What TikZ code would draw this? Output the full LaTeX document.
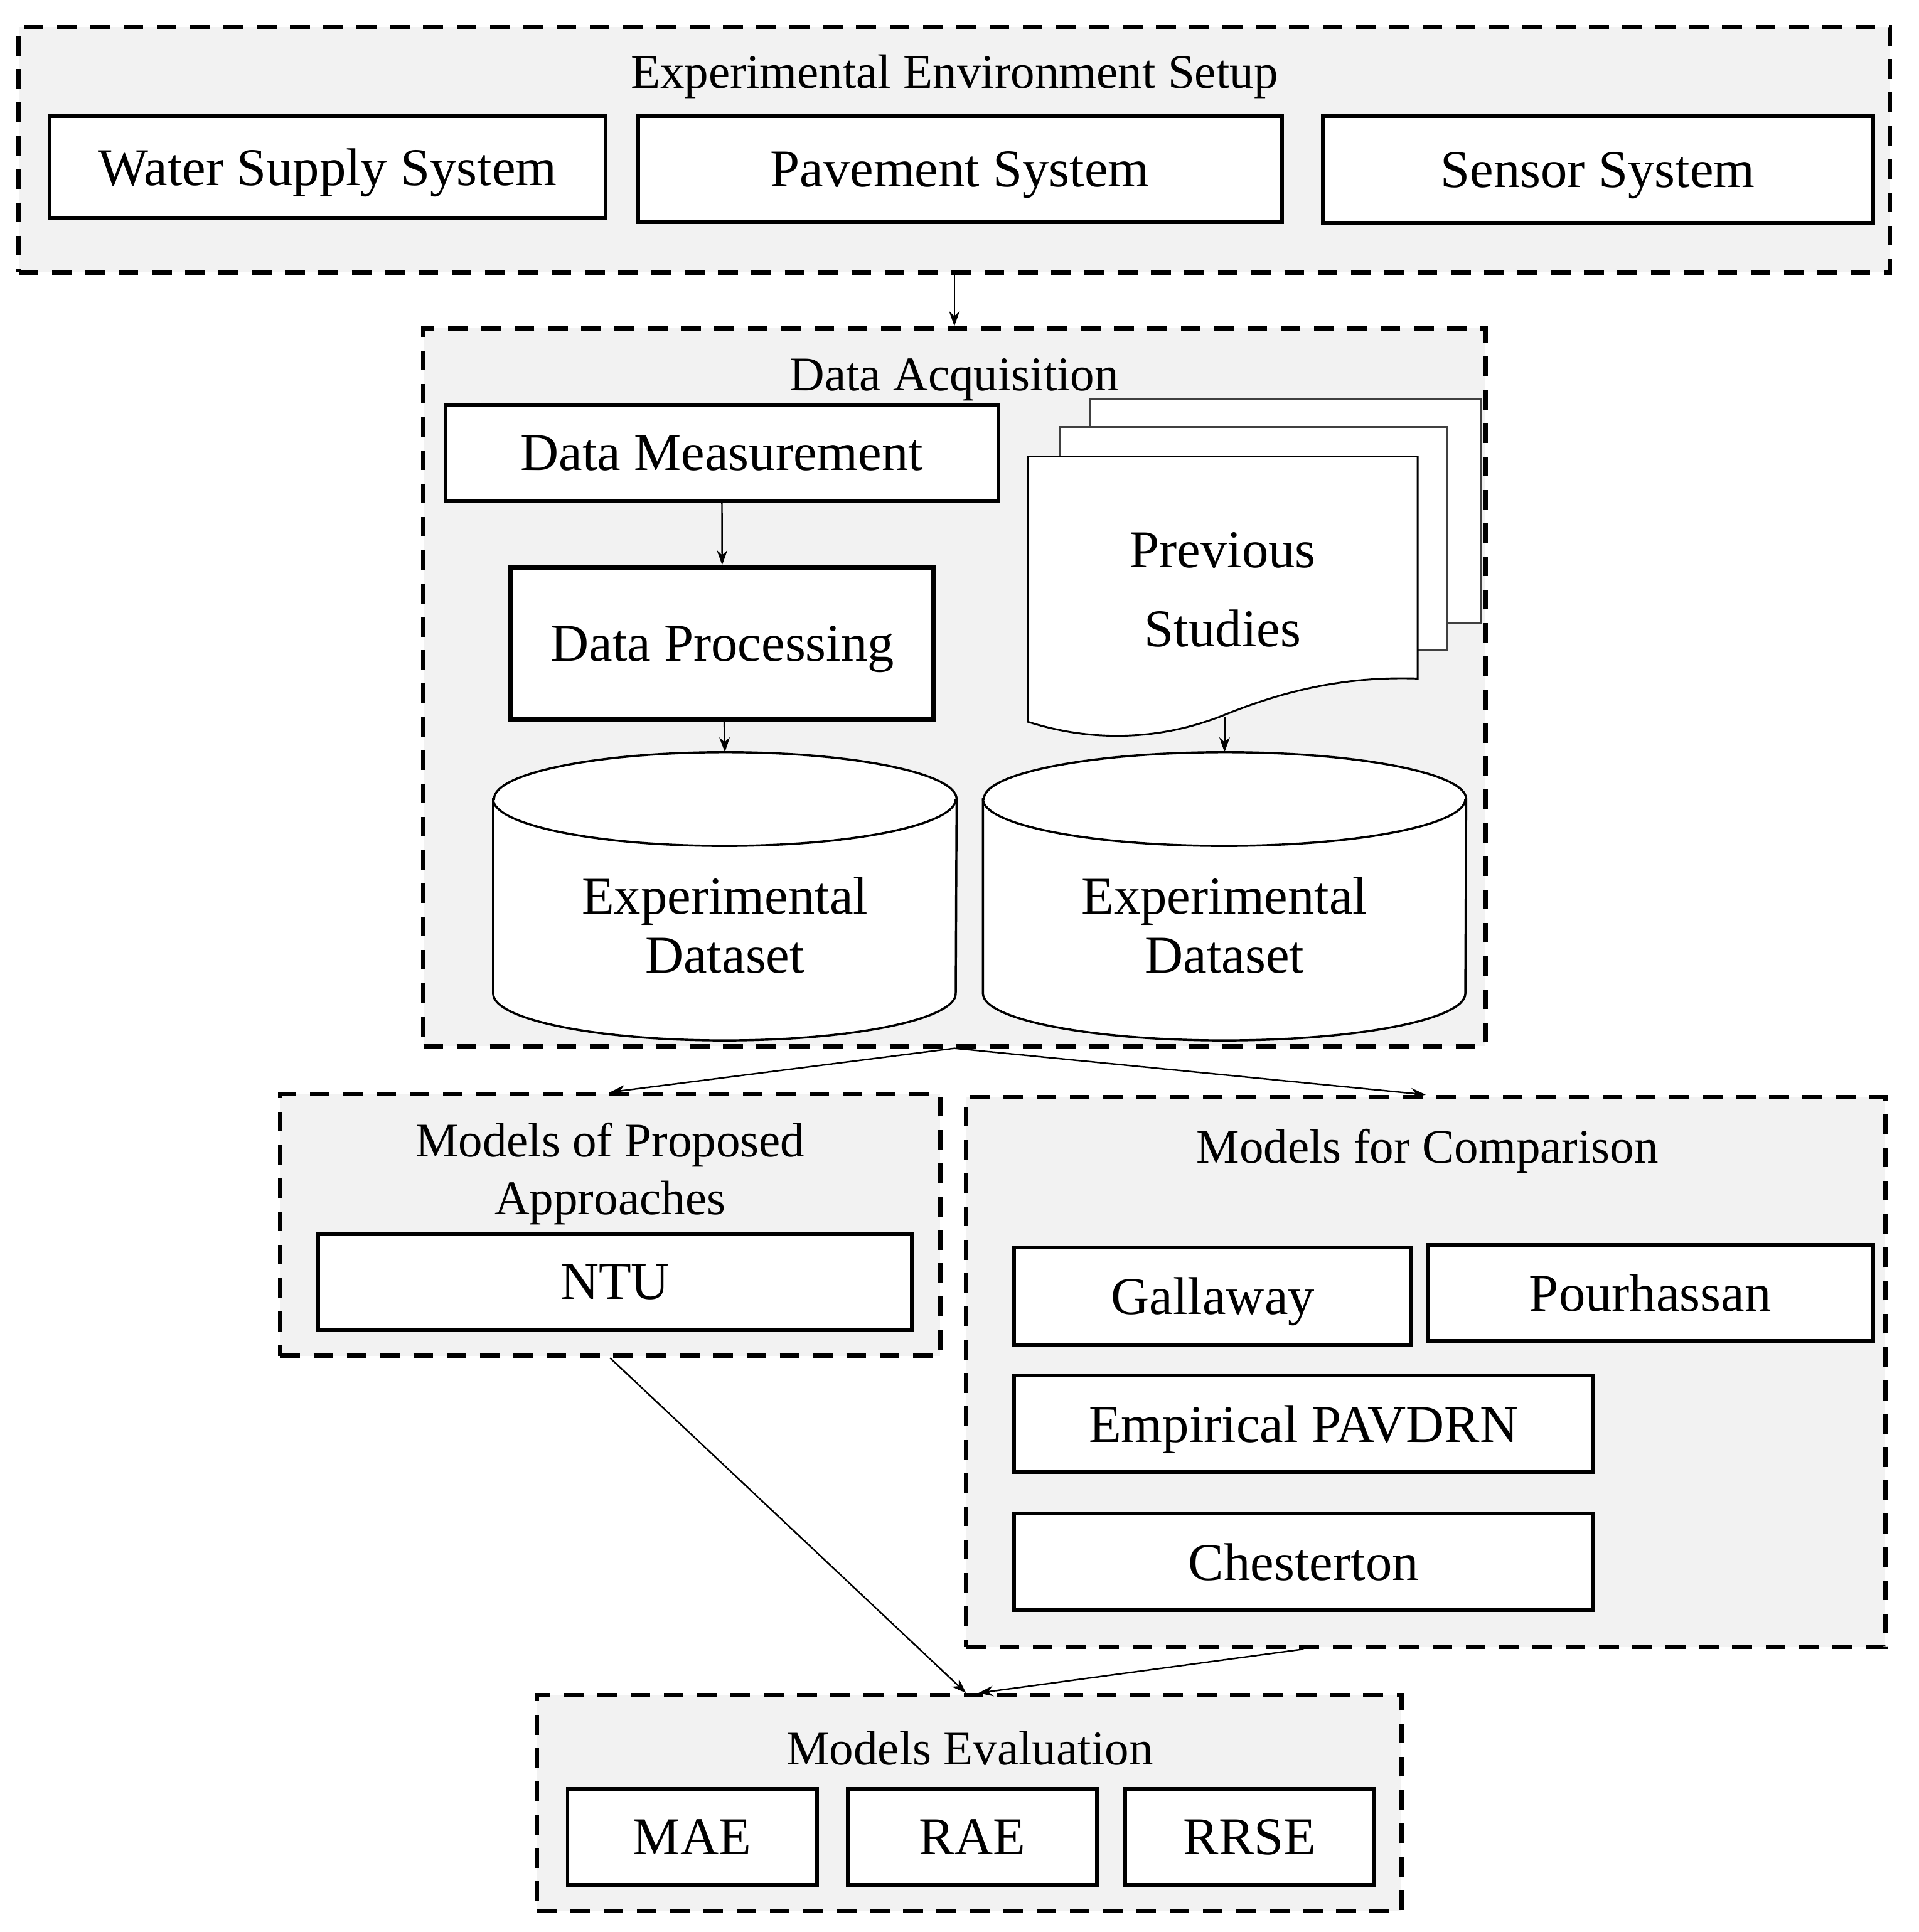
\documentclass[tikz,border=0pt]{standalone}
\usepackage{fontspec}
\setmainfont{Liberation Serif}
\usetikzlibrary{arrows.meta,calc,positioning}
\definecolor{groupgray}{HTML}{F2F2F2}
\newcommand{\boxfont}{\fontsize{24.5}{29}\selectfont}
\newcommand{\titlefont}{\fontsize{22.3}{26.6}\selectfont}

\begin{document}
\begin{tikzpicture}[x=0.02cm, y=0.02cm,
    >={Stealth[length=0.24cm,width=0.17cm]},
    group/.style={draw, dash pattern=on 0.32cm off 0.22cm, line width=0.07cm, fill=groupgray, inner sep=0pt},
    box/.style={draw, line width=0.06cm, fill=white, font=\boxfont, inner sep=0pt, text depth=0pt},
    grouptitle/.style={font=\titlefont, align=center},
    doc/.style={draw=black!75, line width=0.03cm, fill=white}]
\useasboundingbox (0,0) rectangle (1555,-1566);

% containers
\node[group, minimum width=30.34cm, minimum height=3.98cm] (setup) at (773.5,-121.5) {};
\node[group, minimum width=17.22cm, minimum height=11.64cm] (acq) at (773.5,-557) {};
\node[group, minimum width=10.7cm, minimum height=4.24cm] (prop) at (494.5,-993) {};
\node[group, minimum width=14.9cm, minimum height=8.92cm] (comp) at (1155.5,-1112) {};
\node[group, minimum width=14.02cm, minimum height=3.5cm] (eval) at (785.5,-1461.5) {};

% setup
\node[grouptitle] (setuptitle) at (773.5,-62) {Experimental Environment Setup};
\node[box, minimum width=9.02cm, minimum height=1.66cm] (water) at (265.5,-135.5) {Water Supply System};
\node[box, minimum width=10.44cm, minimum height=1.72cm] (pave) at (778,-137) {Pavement System};
\node[box, minimum width=8.92cm, minimum height=1.74cm] (sensor) at (1295,-137.5) {Sensor System};

% acquisition
\node[grouptitle] (acqtitle) at (773.5,-308) {Data Acquisition};
\node[box, minimum width=8.96cm, minimum height=1.56cm] (dm) at (585,-367) {Data Measurement};
\node[box, line width=0.08cm, minimum width=6.86cm, minimum height=2.46cm] (dp) at (585.5,-521.5) {Data Processing};

\draw[doc] (883,-323) rectangle (1200,-505);
\draw[doc] (859,-346) rectangle (1173,-527);
\draw[doc, draw=black] (833,-370) -- (1149,-370) -- (1149,-550)
    .. controls (1090,-548) and (1040,-560) .. (991,-580)
    .. controls (935,-602) and (880,-600) .. (833,-585) -- cycle;
\node[font={\fontsize{24.5}{36.3}\selectfont}, align=center] (prev) at (991,-478) {Previous\\Studies};
\coordinate (prevbot) at (992.5,-581);

\node[inner sep=0pt, minimum width=7.5cm, minimum height=4.66cm] (cyl1) at (587.5,-726.5) {};
\node[inner sep=0pt, minimum width=7.82cm, minimum height=4.66cm] (cyl2) at (992.5,-726.5) {};
\foreach \c/\r in {cyl1/3.75cm, cyl2/3.91cm} {
    \draw[line width=0.035cm, fill=white] ($(\c.north west)+(0,-38)$) -- ($(\c.south west)+(0,38)$)
        arc[start angle=180, end angle=360, x radius=\r, y radius=0.76cm]
        -- ($(\c.north east)+(0,-38)$)
        arc[start angle=0, end angle=180, x radius=\r, y radius=0.76cm] -- cycle;
    \draw[line width=0.035cm] ($(\c.north west)+(0,-38)$)
        arc[start angle=180, end angle=360, x radius=\r, y radius=0.76cm];
}
\node[font={\fontsize{24.5}{27.2}\selectfont}, align=center] (data1) at (587.5,-750) {Experimental\\Dataset};
\node[font={\fontsize{24.5}{27.2}\selectfont}, align=center] (data2) at (992.5,-750) {Experimental\\Dataset};

% models
\node[grouptitle] (proptitle) at (494.5,-951.5) {Models of Proposed\\Approaches};
\node[box, minimum width=9.62cm, minimum height=1.56cm] (ntu) at (498.5,-1039) {NTU};

\node[grouptitle] (comptitle) at (1157,-933) {Models for Comparison};
\node[box, minimum width=6.44cm, minimum height=1.58cm] (gall) at (983,-1050.5) {Gallaway};
\node[box, minimum width=7.22cm, minimum height=1.56cm] (pour) at (1337.5,-1048) {Pourhassan};
\node[box, minimum width=9.38cm, minimum height=1.56cm] (emp) at (1056.5,-1154) {Empirical PAVDRN};
\node[box, minimum width=9.38cm, minimum height=1.56cm] (chest) at (1056.5,-1266) {Chesterton};

% evaluation
\node[grouptitle] (evaltitle) at (786,-1417) {Models Evaluation};
\node[box, minimum width=4.04cm, minimum height=1.56cm] (mae) at (561,-1489) {MAE};
\node[box, minimum width=4.04cm, minimum height=1.56cm] (rae) at (788,-1489) {RAE};
\node[box, minimum width=4.04cm, minimum height=1.56cm] (rrse) at (1013,-1489) {RRSE};

\draw[line width=0.025cm]
    (setup.south) edge[->] (acq.north)
    (dm) edge[->] (dp)
    (dp) edge[->] (cyl1.north)
    (prevbot) edge[->] (cyl2.north)
    (acq.south) edge[->] (prop.north)
    (acq.south) edge[->] (comp.north)
    (prop.south) edge[->] ([xshift=-0.05cm]eval.north)
    (chest |- comp.south) edge[->] ([xshift=0.15cm]eval.north);
\end{tikzpicture}
\end{document}
